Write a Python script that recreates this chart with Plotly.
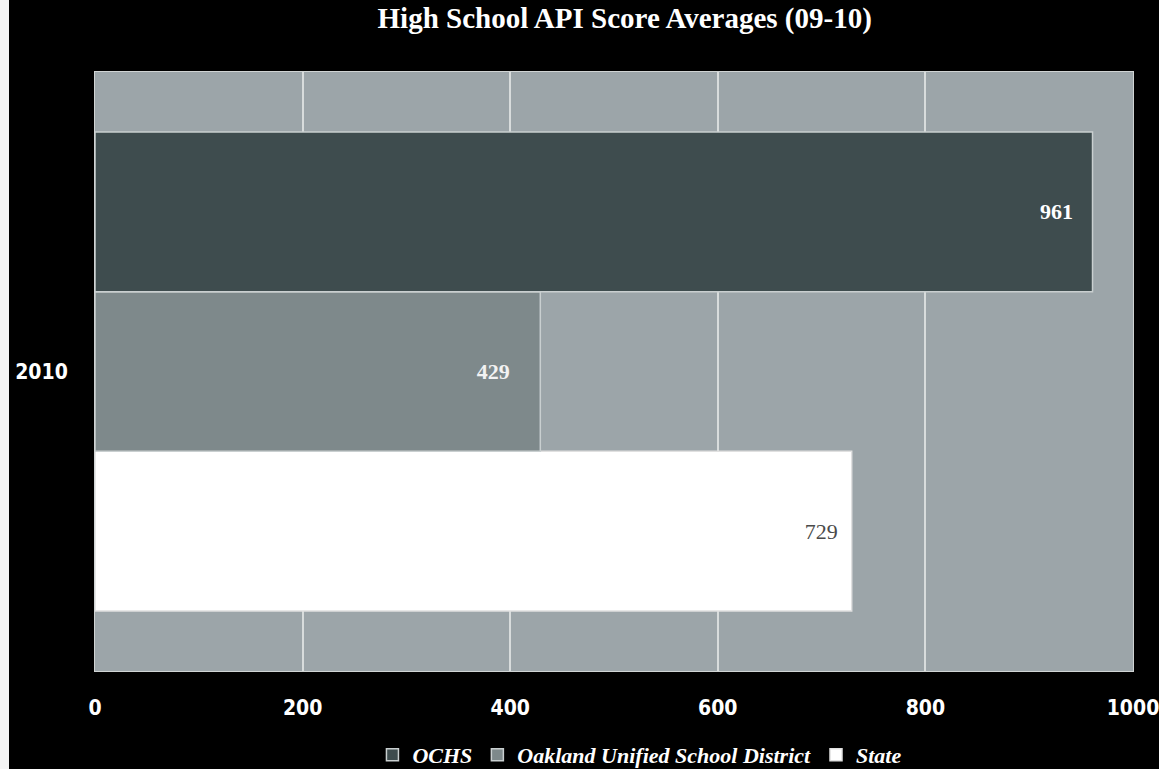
import plotly.graph_objects as go

categories = ["2010"]
series_names = ["OCHS", "Oakland Unified School District", "State"]
ochs = [961]
ousd = [429]
state = [729]
tick_vals = [0, 200, 400, 600, 800, 1000]

colors = {"OCHS": "#3e4c4e", "Oakland Unified School District": "#7e898b", "State": "#ffffff"}
label_colors = {"OCHS": "#ffffff", "Oakland Unified School District": "#f2f2f2", "State": "#4a4a4a"}
label_pad = {"OCHS": 3, "Oakland Unified School District": 5, "State": 2}

fig = go.Figure()
for name, vals in [("State", state), ("Oakland Unified School District", ousd), ("OCHS", ochs)]:
    fig.add_trace(go.Bar(
        y=categories, x=vals, name=name, orientation="h",
        marker=dict(color=colors[name], line=dict(color="#c9cfd0" if name != "State" else "#e0e0e0", width=1.5)),
        texttemplate="%{x}" + "\u00a0" * label_pad[name], textposition="inside", insidetextanchor="end",
        textfont=dict(color=label_colors[name], size=22, family="Liberation Serif",
                      weight="bold" if name != "State" else "normal"),
    ))

fig.update_layout(
    width=1159, height=769,
    paper_bgcolor="#000000", plot_bgcolor="#9ca5a9",
    barmode="group", bargap=0.2, bargroupgap=0,
    margin=dict(l=95, r=26, t=72, b=98, autoexpand=False),
    title=dict(text="<b>High School API Score Averages (09-10)</b>", x=0.539, xanchor="center",
               y=0.977, yanchor="middle",
               font=dict(family="Liberation Serif", size=29, color="#ffffff")),
    xaxis=dict(range=[0, 1000], tickvals=tick_vals, showgrid=True, gridcolor="#d8dcdc", gridwidth=1.5,
               zeroline=False, showline=True, linecolor="#d0d4d4", mirror=True, automargin=False,
               ticklabeloverflow="allow",
               tickfont=dict(family="DejaVu Sans Condensed", size=21, color="#ffffff", weight="bold"),
               ticks="", ticklabelstandoff=18),
    yaxis=dict(showgrid=False, showline=True, linecolor="#d0d4d4", mirror=True, automargin=False,
               tickfont=dict(family="DejaVu Sans Condensed", size=21, color="#ffffff", weight="bold"),
               ticks="", ticklabelstandoff=22),
    legend=dict(orientation="h", x=0.525, xanchor="center", y=-0.14, yanchor="middle",
                traceorder="reversed",
                font=dict(family="Liberation Serif", size=22, color="#ffffff", weight="bold", style="italic"),
                bgcolor="rgba(0,0,0,0)"),
    showlegend=True,
    shapes=[dict(type="rect", xref="paper", yref="paper", x0=-95/1038, x1=-86/1038, y0=-0.2, y1=1.2,
                 fillcolor="#f4f4f4", line=dict(width=0), layer="above")],
)

fig.write_html("out.html")
